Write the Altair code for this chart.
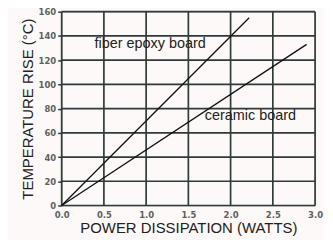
import altair as alt
import pandas as pd

fiber_x = [0.0, 2.22]
fiber_y = [0.0, 155.0]
ceramic_x = [0.0, 2.9]
ceramic_y = [0.0, 133.0]
series_names = ["fiber epoxy board", "ceramic board"]
label_x = [1.047, 2.235]
label_y = [133.5, 73.5]
x_ticks = [0.0, 0.5, 1.0, 1.5, 2.0, 2.5, 3.0]
y_ticks = [0, 20, 40, 60, 80, 100, 120, 140, 160]

rows = []
for xv, yv in zip(fiber_x, fiber_y):
    rows.append({"x": xv, "y": yv, "s": series_names[0]})
for xv, yv in zip(ceramic_x, ceramic_y):
    rows.append({"x": xv, "y": yv, "s": series_names[1]})
df = pd.DataFrame(rows)
labels = pd.DataFrame({"x": label_x, "y": label_y, "t": series_names})

grid_rows = []
for i, t in enumerate(x_ticks):
    grid_rows.append({"gx": t, "gy": y_ticks[0], "g": f"v{i}", "o": 0})
    grid_rows.append({"gx": t, "gy": y_ticks[-1], "g": f"v{i}", "o": 1})
for i, t in enumerate(y_ticks):
    grid_rows.append({"gx": x_ticks[0], "gy": t, "g": f"h{i}", "o": 0})
    grid_rows.append({"gx": x_ticks[-1], "gy": t, "g": f"h{i}", "o": 1})
gdf = pd.DataFrame(grid_rows)

xs = alt.Scale(domain=[0, 3], nice=False)
ys = alt.Scale(domain=[0, 160], nice=False)
GRID = "#2f3a3a"

xaxis = alt.Axis(values=x_ticks, format=".1f", title="POWER DISSIPATION (WATTS)",
                 grid=False, domain=False,
                 ticks=False, labelFont="DejaVu Sans", labelFontWeight="bold", labelFontSize=8.5,
                 labelColor="#5e6060", labelPadding=5, labelOverlap=False, labelFlush=False,
                 titleFont="Liberation Sans", titleFontWeight="normal", titleFontSize=15,
                 titleColor="#222222", titlePadding=2)
yaxis = alt.Axis(values=y_ticks, title="TEMPERATURE RISE (°C)",
                 grid=False, domain=False,
                 ticks=True, tickColor=GRID, tickSize=4, tickWidth=1.5,
                 labelFont="DejaVu Sans", labelFontWeight="bold", labelFontSize=8.5,
                 labelColor="#5e6060", labelPadding=2, labelOverlap=False, labelFlush=False,
                 titleFont="Liberation Sans", titleFontWeight="normal", titleFontSize=15,
                 titleColor="#222222", titlePadding=3)

grid = alt.Chart(gdf).mark_line(color=GRID, strokeWidth=1.7).encode(
    x=alt.X("gx:Q", scale=xs, axis=xaxis),
    y=alt.Y("gy:Q", scale=ys, axis=yaxis),
    detail="g:N",
    order="o:Q",
)
lines = alt.Chart(df).mark_line(color="#111111", strokeWidth=1.3).encode(
    x=alt.X("x:Q", scale=xs, axis=xaxis),
    y=alt.Y("y:Q", scale=ys, axis=yaxis),
    detail="s:N",
)
text = alt.Chart(labels).mark_text(font="Liberation Sans", fontSize=14.5, color="#222222").encode(
    x=alt.X("x:Q", scale=xs, axis=xaxis),
    y=alt.Y("y:Q", scale=ys, axis=yaxis),
    text="t:N",
)

chart = (grid + lines + text).properties(
    width=255, height=195,
    autosize=alt.AutoSizeParams(type="none"),
    padding={"left": 54, "top": 3, "right": 10, "bottom": 34},
    background="#fdf9f8",
).configure_view(stroke="#bbbbbb", strokeWidth=1)

chart.save("out.html", embed_options={"renderer": "svg", "actions": False})
